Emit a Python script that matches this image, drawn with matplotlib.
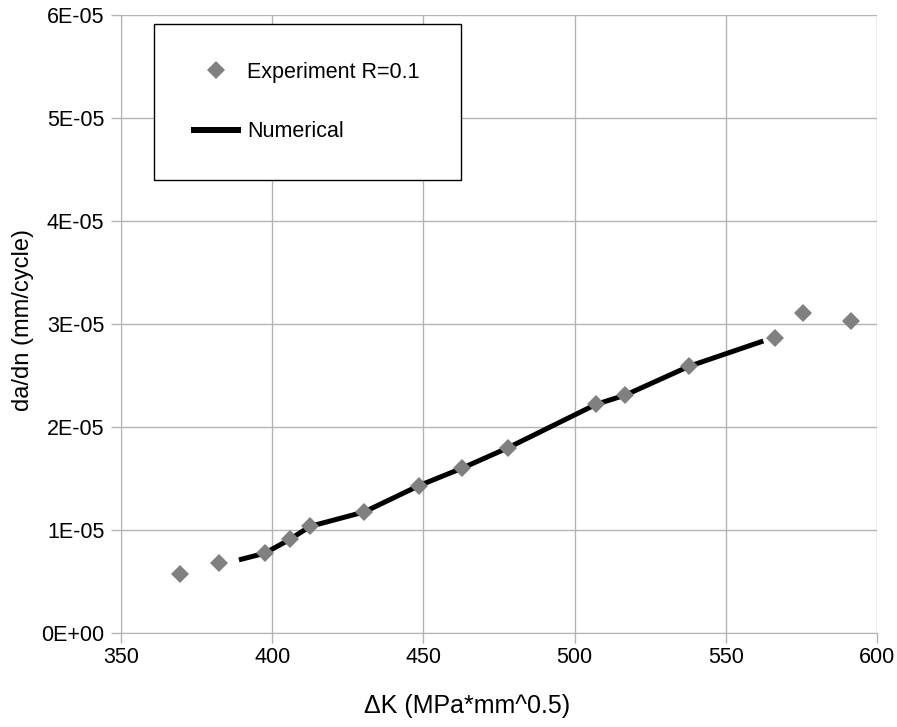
import matplotlib
matplotlib.use("Agg")
import matplotlib.pyplot as plt
from matplotlib.ticker import FuncFormatter, MultipleLocator

plt.rcParams['font.family'] = ['Liberation Sans', 'DejaVu Sans']

# experiment data R=0.1
dk_exp = [369.5, 382.4, 397.6, 405.9, 412.5, 430.4, 448.5, 462.8, 478.1, 507.1, 516.8, 537.9, 566.2, 575.5, 591.3]
dadn_exp = [5.7e-6, 6.8e-6, 7.75e-6, 9.1e-6, 1.035e-5, 1.175e-5, 1.43e-5, 1.6e-5, 1.8e-5, 2.22e-5, 2.31e-5, 2.59e-5, 2.86e-5, 3.11e-5, 3.03e-5]

# numerical curve
dk_num = [389.0, 397.6, 405.9, 412.5, 430.4, 448.5, 462.8, 478.1, 507.1, 516.8, 537.9, 562.4]
dadn_num = [7.1e-6, 7.75e-6, 9.1e-6, 1.035e-5, 1.175e-5, 1.43e-5, 1.6e-5, 1.8e-5, 2.22e-5, 2.31e-5, 2.59e-5, 2.835e-5]

fig = plt.figure(figsize=(8.97, 7.27), dpi=100)
ax = fig.add_axes([121/897, 1-633/727, 756/897, 618/727])

grid_c = '#b3b3b3'
ax.plot(dk_num, dadn_num, '-', color='black', lw=3.6, label='Numerical', zorder=3, solid_capstyle='butt')
ax.plot(dk_exp, dadn_exp, 'D', color='#808080', ms=9, mew=0, label='Experiment R=0.1', zorder=4)

ax.set_xlim(350, 600)
ax.set_ylim(0, 6e-5)
ax.xaxis.set_major_locator(MultipleLocator(50))
ax.yaxis.set_major_locator(MultipleLocator(1e-5))
ax.yaxis.set_major_formatter(FuncFormatter(lambda v, p: '%.0E' % v))
ax.grid(True, color=grid_c, lw=1)
ax.set_axisbelow(True)
for s in ['top', 'right']:
    ax.spines[s].set_visible(False)
for s in ['left', 'bottom']:
    ax.spines[s].set_color(grid_c)
ax.tick_params(colors=grid_c, labelcolor='black', labelsize=15.5, length=7, width=1, direction='out')
ax.tick_params(axis='y', pad=5)
ax.tick_params(axis='x', pad=3)

ax.set_xlabel('ΔK (MPa*mm^0.5)', fontsize=18, va='center')
ax.xaxis.set_label_coords(0.458, -0.118)
ax.set_ylabel('da/dn (mm/cycle)', fontsize=17, va='center')
ax.yaxis.set_label_coords(-0.130, 0.506)

h, l = ax.get_legend_handles_labels()
leg = ax.legend(h[::-1], l[::-1], loc='upper left', bbox_to_anchor=(0.043, 0.985, 0.407, 0.0),
                mode='expand', borderaxespad=0, frameon=True, fancybox=False,
                prop={'size': 15.5}, labelspacing=1.78, handlelength=2.3,
                handletextpad=0.3, borderpad=1.75)
leg.get_frame().set_edgecolor('black')
leg.get_frame().set_linewidth(1)
leg.get_frame().set_alpha(1)
leg.legend_handles[1].set_linewidth(4.3)

fig.savefig('out.png', dpi=100)
